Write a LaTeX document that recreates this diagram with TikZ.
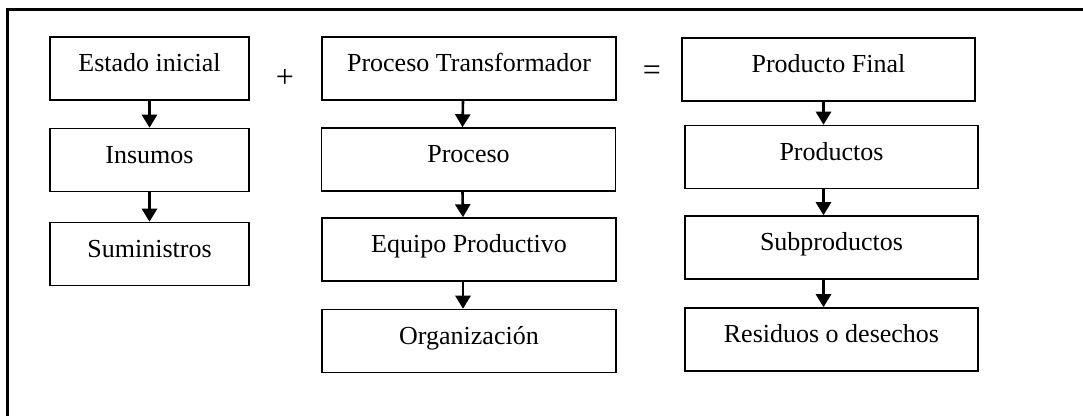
\documentclass[tikz,border=0pt]{standalone}
\usepackage{fontspec}
\setmainfont{Liberation Serif}
\usetikzlibrary{arrows.meta}

\begin{document}
\begin{tikzpicture}[x=0.5pt,y=-0.5pt,
  box/.style={draw, line width=0.75pt, inner xsep=0pt, inner ysep=0pt,
    text height=17.5pt, text depth=14pt,
    font=\fontsize{13}{15}\selectfont},
  wA/.style={box, minimum width=99.5pt},
  wB/.style={box, minimum width=147pt},
  wC/.style={box, minimum width=146.5pt},
  arr/.style={line width=1.3pt, -{Triangle[width=7.5pt,length=6.5pt]}},
  sign/.style={font=\fontsize{16}{18}\selectfont, inner sep=0pt}]
\useasboundingbox (0,0) rectangle (1083,416);

% outer frame (top and left edges)
\draw[line width=1.5pt] (1083,10) -- (7,10) -- (7,416);

% first column: initial state
\node[wA] (ei)  at (149.5,68.5) {Estado inicial};
\node[wA] (ins) at (149.5,160)  {Insumos};
\node[wA] (sum) at (149.5,254)  {Suministros};

% second column: transforming process
\node[wB] (pt)  at (469,68.5)   {Proceso Transformador};
\node[wB] (pro) at (468.5,159.5){Proceso};
\node[wB] (eq)  at (469,249.5)  {Equipo Productivo};
\node[wB] (org) at (469,341)    {Organización};

% third column: final product
\node[wC] (pf)  at (828.5,69.5) {Producto Final};
\node[wC] (prs) at (831.5,157)  {Productos};
\node[wC] (sub) at (831.5,247.5){Subproductos};
\node[wC] (res) at (831.5,339.5){Residuos o desechos};

% operators between columns
\node[sign] (plus) at (285,78) {+};
\node[sign] (eqs)  at (652,73) {=};

% downward arrows
\draw[arr] (ei.south)  -- (ins.north);
\draw[arr] (ins.south) -- (sum.north);
\draw[arr] ([xshift=-3pt]pt.south)  -- ([xshift=-3pt]pro.north);
\draw[arr] ([xshift=-3pt]pro.south) -- ([xshift=-3pt]eq.north);
\draw[arr] ([xshift=-3pt]eq.south)  -- ([xshift=-3pt]org.north);
\draw[arr] ([xshift=-2.5pt]pf.south)  -- ([xshift=-4pt]prs.north);
\draw[arr] ([xshift=-4pt]prs.south) -- ([xshift=-4pt]sub.north);
\draw[arr] ([xshift=-4pt]sub.south) -- ([xshift=-4pt]res.north);
\end{tikzpicture}
\end{document}
